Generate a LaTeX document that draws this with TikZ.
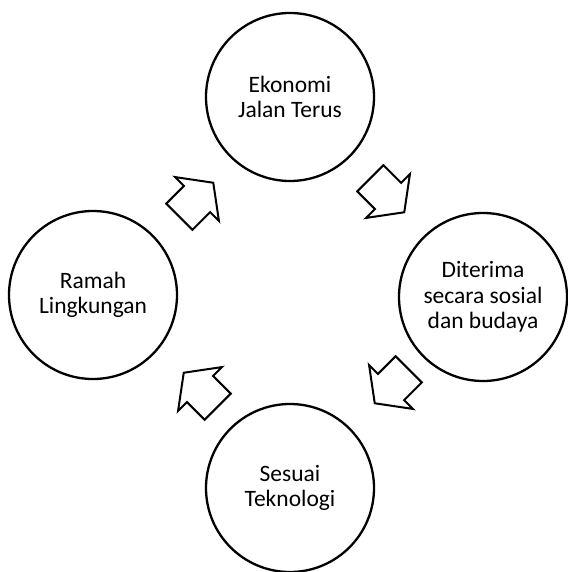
\documentclass[tikz,border=0pt]{standalone}
\usepackage{fontspec}
\setmainfont{Carlito}
\begin{document}
\begin{tikzpicture}[x=1pt,y=-1pt,
  circ/.style={circle, draw=black, line width=2.3pt, fill=white, minimum size=168pt,
    inner sep=0pt, align=center, font=\fontsize{23.5}{25.5}\selectfont},
  blockarrow/.style={draw=black, line width=2pt, fill=white, line join=miter}]
\useasboundingbox (0,0) rectangle (567,572);
\node[circ] (top) at (290,97) {Ekonomi\\Jalan Terus};
\node[circ] (right) at (483,297) {Diterima\\secara sosial\\dan budaya};
\node[circ] (bottom) at (290,488) {Sesuai\\Teknologi};
\node[circ] (left) at (93,295) {Ramah\\Lingkungan};
\foreach \cx/\cy/\ang in {197/199/45, 388/196/-45, 391/387/-135, 200/389/135}{
  \draw[blockarrow, shift={(\cx,\cy)}, rotate=\ang]
    (-25,-18.5) -- (0,-18.5) -- (0,-31) -- (23,0) -- (0,31) -- (0,18.5) -- (-25,18.5) -- cycle;
}
\end{tikzpicture}
\end{document}
